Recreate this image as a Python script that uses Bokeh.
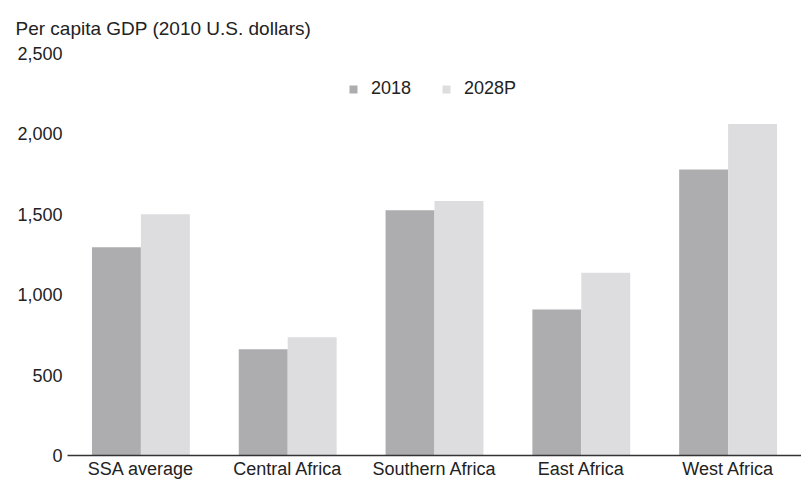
from bokeh.plotting import figure
from bokeh.models import (ColumnDataSource, FactorRange, Range1d, FixedTicker,
                          NumeralTickFormatter, Legend, LegendItem)
from bokeh.transform import dodge
from bokeh.embed import file_html
from bokeh.resources import INLINE

regions = ["SSA average", "Central Africa", "Southern Africa", "East Africa", "West Africa"]
gdp_2018 = [1295, 660, 1525, 908, 1778]
gdp_2028p = [1500, 735, 1582, 1136, 2062]
series_labels = ["2018", "2028P"]
y_ticks = [0, 500, 1000, 1500, 2000, 2500]
title_text = "Per capita GDP (2010 U.S. dollars)"

FONT = "Liberation Sans"
TXT = "#222222"
C2018 = "#adadb0"
C2028 = "#dddde0"

source = ColumnDataSource(dict(region=regions, y2018=gdp_2018, y2028=gdp_2028p))

p = figure(x_range=FactorRange(factors=regions), y_range=Range1d(0, 2500),
           width=801, height=481, output_backend="svg", toolbar_location=None,
           min_border_left=67, min_border_right=0, min_border_top=53,
           min_border_bottom=23, background_fill_color="white",
           border_fill_color="white")

r1 = p.vbar(x=dodge("region", -1/6, range=p.x_range), top="y2018", width=1/3,
            source=source, fill_color=C2018, line_color=None)
r2 = p.vbar(x=dodge("region", 1/6, range=p.x_range), top="y2028", width=1/3,
            source=source, fill_color=C2028, line_color=None)

p.outline_line_color = None
p.xgrid.visible = False
p.ygrid.visible = False

# y axis
ya = p.yaxis[0]
ya.ticker = FixedTicker(ticks=y_ticks)
ya.formatter = NumeralTickFormatter(format="0,0")
ya.axis_line_color = None
ya.major_tick_line_color = None
ya.minor_tick_line_color = None
ya.major_tick_out = 0
ya.major_tick_in = 0
ya.major_label_standoff = 5
ya.major_label_text_font = FONT
ya.major_label_text_font_size = "18px"
ya.major_label_text_color = TXT

# x axis
xa = p.xaxis[0]
xa.axis_line_color = "#333333"
xa.axis_line_width = 1.5
xa.major_tick_line_color = None
xa.minor_tick_line_color = None
xa.major_tick_out = 0
xa.major_tick_in = 0
xa.major_label_standoff = 3
xa.major_label_text_font = FONT
xa.major_label_text_font_size = "18px"
xa.major_label_text_color = TXT

# title
p.title.text = title_text
p.title.align = "left"
p.title.offset = -52
p.title.standoff = 30
p.title.text_font = FONT
p.title.text_font_size = "19px"
p.title.text_font_style = "normal"
p.title.text_color = TXT

legend = Legend(items=[LegendItem(label=series_labels[0], renderers=[r1]),
                       LegendItem(label=series_labels[1], renderers=[r2])],
                orientation="horizontal", location=(281, 356),
                glyph_width=10, glyph_height=10, label_standoff=13, spacing=30,
                padding=0, margin=0, border_line_color=None,
                background_fill_alpha=0, label_text_font=FONT,
                label_text_font_size="18px", label_text_color=TXT,
                label_height=14)
p.add_layout(legend)

open("out.html", "w").write(file_html(p, INLINE))
